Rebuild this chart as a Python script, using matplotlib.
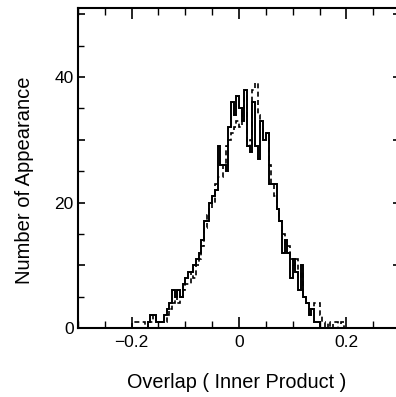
import numpy as np
import matplotlib
matplotlib.use("Agg")
import matplotlib.pyplot as plt
from matplotlib.ticker import MultipleLocator, FuncFormatter

plt.rcParams['font.family'] = ['Liberation Sans', 'DejaVu Sans']

# Bin edges: -0.2 .. 0.2, width 0.005 (80 bins)
bin_start = -0.2
bin_width = 0.005
solid_counts = [0, 0, 0, 0, 0, 0, 1, 2, 2, 1,
                1, 1, 2, 3, 4, 6, 5, 6, 5, 7,
                8, 9, 9, 10, 11, 12, 14, 17, 17, 20,
                21, 22, 29, 26, 26, 25, 32, 36, 34, 37,
                35, 33, 38, 29, 28, 36, 29, 27, 33, 30,
                31, 23, 23, 23, 19, 17, 12, 14, 12, 8,
                11, 9, 6, 10, 5, 4, 2, 3, 1, 1,
                0, 0, 0, 0, 0, 0, 0, 0, 0, 0]
dashed_counts = [1, 1, 1, 1, 1, 0, 1, 1, 2, 1,
                 1, 1, 1, 2, 3, 4, 5, 4, 5, 6,
                 7, 7, 9, 8, 10, 11, 13, 16, 18, 19,
                 20, 23, 24, 24, 26, 29, 30, 31, 32, 33,
                 32, 35, 37, 29, 30, 38, 39, 34, 32, 31,
                 31, 26, 23, 21, 19, 17, 15, 13, 13, 11,
                 10, 11, 8, 9, 5, 4, 3, 3, 4, 4,
                 2, 1, 0, 1, 0, 1, 1, 0, 1, 0]
x_label = "Overlap ( Inner Product )"
y_label = "Number of Appearance"

edges = bin_start + bin_width * np.arange(len(solid_counts) + 1)

fig = plt.figure(figsize=(3.96, 3.97), dpi=100)
ax = fig.add_axes([78/396, 1 - 328/397, 322/396, 320/397])

ax.stairs(solid_counts, edges, color='black', lw=1.4, baseline=0)
ax.stairs(dashed_counts, edges, color='black', lw=1.2, ls=(0, (3, 2)), baseline=0)

ax.set_xlim(-0.3, 0.3)
ax.set_ylim(0, 51)

ax.xaxis.set_major_locator(MultipleLocator(0.2))
ax.xaxis.set_minor_locator(MultipleLocator(0.05))
ax.yaxis.set_major_locator(MultipleLocator(10))
ax.yaxis.set_minor_locator(MultipleLocator(5))

def xfmt(v, pos):
    if abs(v) < 1e-9:
        return "0"
    return ("%.1f" % v).replace("-", "\u2212")

def yfmt(v, pos):
    iv = int(round(v))
    return str(iv) if iv % 20 == 0 else ""

ax.xaxis.set_major_formatter(FuncFormatter(xfmt))
ax.yaxis.set_major_formatter(FuncFormatter(yfmt))

ax.tick_params(which='both', direction='in', top=True, right=True, labelsize=12.5)
ax.tick_params(axis='x', which='major', length=8, width=1.2, pad=5)
ax.tick_params(axis='x', which='minor', length=5, width=1.0)
ax.tick_params(axis='y', which='major', length=5, width=1.2, pad=3)
ax.tick_params(axis='y', which='minor', length=4, width=1.0, right=False)

for s in ax.spines.values():
    s.set_linewidth(1.5)

fig.text(237/396, 1 - 383/397, x_label, ha='center', va='center', fontsize=14.3)
fig.text(25/396, 1 - 180/397, y_label, ha='center', va='center', rotation=90, fontsize=14.5)

fig.savefig("out.png", dpi=100)
